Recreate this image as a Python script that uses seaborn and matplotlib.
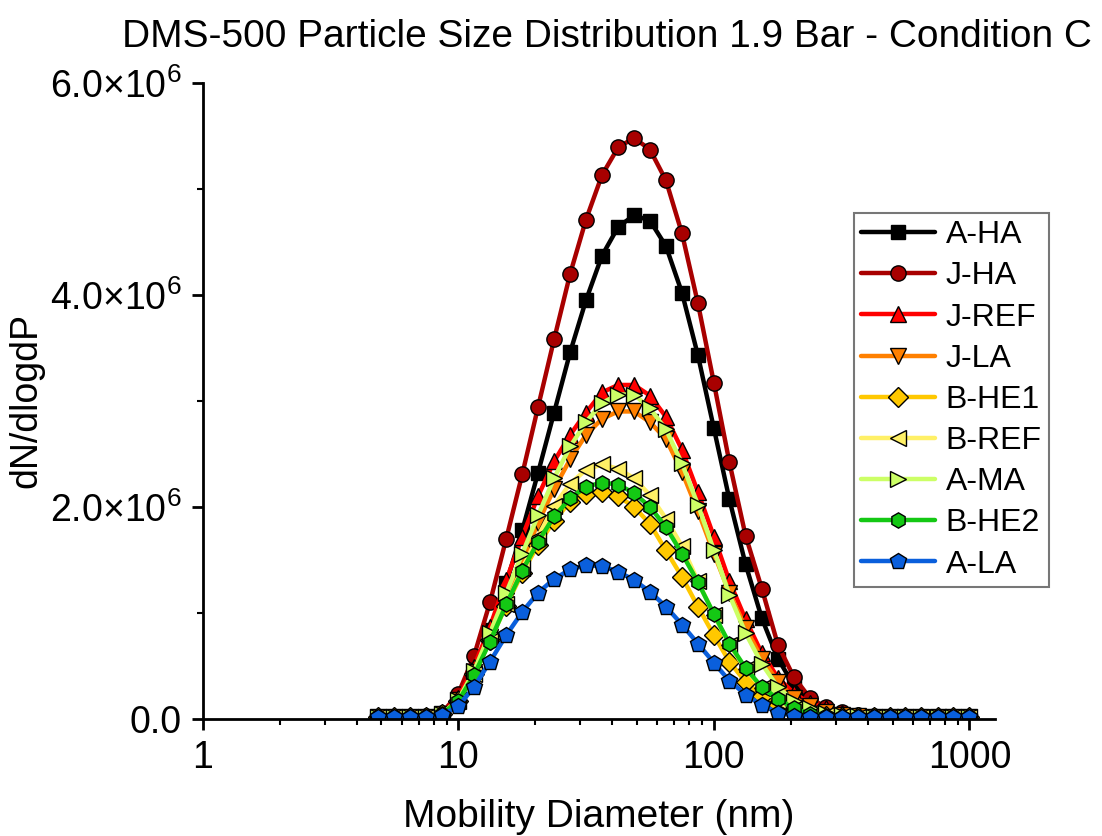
import numpy as np
import pandas as pd
import matplotlib
matplotlib.use("Agg")
import matplotlib.pyplot as plt
import seaborn as sns
from matplotlib.ticker import LogLocator, NullFormatter, MultipleLocator

# DMS-500 bin centres (nm)
diameter = [4.87, 5.62, 6.49, 7.50, 8.66, 10.0, 11.5, 13.3, 15.4, 17.8,
            20.5, 23.7, 27.4, 31.6, 36.5, 42.2, 48.7, 56.2, 64.9, 75.0,
            86.6, 100, 115, 133, 154, 178, 205, 237, 274, 316,
            365, 422, 487, 562, 649, 750, 866, 1000]

# dN/dlogdP values, in units of 1e6
a_ha = [0.02, 0.02, 0.02, 0.02, 0.04, 0.16, 0.43, 0.84, 1.28, 1.78,
        2.32, 2.89, 3.46, 3.95, 4.37, 4.64, 4.75, 4.70, 4.46, 4.02,
        3.43, 2.74, 2.07, 1.46, 0.95, 0.57, 0.32, 0.15, 0.07, 0.03,
        0.02, 0.02, 0.02, 0.02, 0.02, 0.02, 0.02, 0.02]
j_ha = [0.02, 0.02, 0.02, 0.03, 0.06, 0.24, 0.59, 1.10, 1.70, 2.31,
        2.94, 3.58, 4.20, 4.71, 5.13, 5.39, 5.48, 5.37, 5.08, 4.58,
        3.92, 3.17, 2.42, 1.73, 1.23, 0.70, 0.40, 0.20, 0.11, 0.07,
        0.04, 0.03, 0.02, 0.02, 0.02, 0.02, 0.02, 0.02]
j_ref = [0.02, 0.02, 0.02, 0.02, 0.05, 0.20, 0.49, 0.87, 1.31, 1.72,
         2.10, 2.43, 2.68, 2.89, 3.08, 3.15, 3.15, 3.05, 2.85, 2.54,
         2.14, 1.72, 1.30, 0.94, 0.62, 0.39, 0.245, 0.15, 0.10, 0.06,
         0.04, 0.03, 0.02, 0.02, 0.02, 0.02, 0.02, 0.02]
j_la = [0.02, 0.02, 0.02, 0.02, 0.05, 0.18, 0.44, 0.77, 1.12, 1.48,
        1.85, 2.17, 2.45, 2.68, 2.83, 2.90, 2.90, 2.80, 2.64, 2.33,
        1.96, 1.56, 1.19, 0.86, 0.57, 0.35, 0.20, 0.12, 0.07, 0.04,
        0.03, 0.02, 0.02, 0.02, 0.02, 0.02, 0.02, 0.02]
b_he1 = [0.02, 0.02, 0.02, 0.02, 0.05, 0.17, 0.42, 0.74, 1.07, 1.38,
         1.64, 1.87, 2.05, 2.12, 2.14, 2.10, 2.00, 1.84, 1.59, 1.34,
         1.06, 0.79, 0.54, 0.35, 0.22, 0.13, 0.07, 0.04, 0.03, 0.02,
         0.02, 0.02, 0.02, 0.02, 0.02, 0.02, 0.02, 0.02]
b_ref = [0.02, 0.02, 0.02, 0.02, 0.05, 0.17, 0.42, 0.74, 1.08, 1.42,
         1.72, 2.01, 2.22, 2.35, 2.40, 2.36, 2.27, 2.11, 1.89, 1.63,
         1.30, 0.98, 0.70, 0.47, 0.29, 0.17, 0.10, 0.06, 0.04, 0.03,
         0.02, 0.02, 0.02, 0.02, 0.02, 0.02, 0.02, 0.02]
a_ma = [0.02, 0.02, 0.02, 0.02, 0.05, 0.18, 0.45, 0.81, 1.19, 1.56,
        1.92, 2.27, 2.57, 2.80, 2.98, 3.06, 3.06, 2.93, 2.73, 2.41,
        2.02, 1.59, 1.17, 0.81, 0.52, 0.30, 0.17, 0.10, 0.06, 0.04,
        0.03, 0.02, 0.02, 0.02, 0.02, 0.02, 0.02, 0.02]
b_he2 = [0.02, 0.02, 0.02, 0.02, 0.05, 0.17, 0.41, 0.73, 1.08, 1.40,
         1.67, 1.91, 2.08, 2.19, 2.23, 2.21, 2.13, 2.00, 1.81, 1.56,
         1.29, 0.99, 0.71, 0.48, 0.30, 0.19, 0.10, 0.05, 0.03, 0.02,
         0.02, 0.02, 0.02, 0.02, 0.02, 0.02, 0.02, 0.02]
a_la = [0.02, 0.02, 0.02, 0.02, 0.04, 0.12, 0.30, 0.54, 0.79, 1.01,
        1.19, 1.32, 1.41, 1.45, 1.44, 1.39, 1.31, 1.20, 1.06, 0.89,
        0.71, 0.53, 0.36, 0.23, 0.13, 0.06, 0.03, 0.02, 0.02, 0.02,
        0.02, 0.02, 0.02, 0.02, 0.02, 0.02, 0.02, 0.02]

names = ['A-HA', 'J-HA', 'J-REF', 'J-LA', 'B-HE1', 'B-REF', 'A-MA', 'B-HE2', 'A-LA']
series = [a_ha, j_ha, j_ref, j_la, b_he1, b_ref, a_ma, b_he2, a_la]
colors = ['#000000', '#a80000', '#ff0000', '#ff8000', '#ffc800',
          '#fff066', '#ccff66', '#14c814', '#0a5fdc']
markers = ['s', 'o', '^', 'v', 'D', '<', '>', 'h', 'p']
msizes = [10, 11, 12, 12, 10, 12, 12, 11, 12]

sns.set_style("ticks")
plt.rcParams['font.family'] = ['Liberation Sans', 'DejaVu Sans']
plt.rcParams['mathtext.fontset'] = 'custom'
plt.rcParams['mathtext.rm'] = 'Liberation Sans'
for key in ['text.color', 'axes.labelcolor', 'xtick.color', 'ytick.color', 'axes.edgecolor']:
    plt.rcParams[key] = 'black'

fig = plt.figure(figsize=(11.02, 8.36), dpi=100)
ax = fig.add_axes([0.184, 0.14, 0.719, 0.761])

for name, vals, col, mk, ms in zip(names, series, colors, markers, msizes):
    sns.lineplot(x=diameter, y=np.array(vals) * 1e6, ax=ax, color=col,
                 linewidth=3.2, marker=mk, markersize=ms,
                 markeredgecolor='black', markeredgewidth=1.0,
                 label=name, sort=False)

ax.set_xscale('log')
ax.set_xlim(1, 1260)
ax.set_ylim(0, 6e6)

ax.set_xticks([1, 10, 100, 1000])
ax.set_xticklabels(['1', '10', '100', '1000'])
ax.xaxis.set_minor_locator(LogLocator(base=10, subs=np.arange(2, 10), numticks=20))
ax.xaxis.set_minor_formatter(NullFormatter())
ax.set_yticks([0, 2e6, 4e6, 6e6])
ax.set_yticklabels(['0.0', '2.0×10$^{6}$', '4.0×10$^{6}$', '6.0×10$^{6}$'])
ax.yaxis.set_minor_locator(MultipleLocator(1e6))

ax.tick_params(axis='both', which='major', direction='out', length=8, width=2,
               labelsize=27, pad=7)
ax.tick_params(axis='both', which='minor', direction='out', length=4, width=1.5)
for side in ['left', 'bottom']:
    ax.spines[side].set_linewidth(2)
sns.despine(ax=ax)

ax.set_xlabel('Mobility Diameter (nm)', fontsize=28, labelpad=17)
ax.set_ylabel('dN/dlogdP', fontsize=27, labelpad=4)
ax.set_title('DMS-500 Particle Size Distribution 1.9 Bar - Condition C',
             fontsize=28, pad=26, x=0.51)

leg = ax.legend(loc='upper left', bbox_to_anchor=(0.822, 0.795), fontsize=23,
                frameon=True, fancybox=False, edgecolor='#555555',
                handlelength=2.3, handletextpad=0.35, labelspacing=0.35,
                borderpad=0.22, borderaxespad=0)
leg.get_frame().set_linewidth(1.5)

fig.savefig('out.png', dpi=100)
